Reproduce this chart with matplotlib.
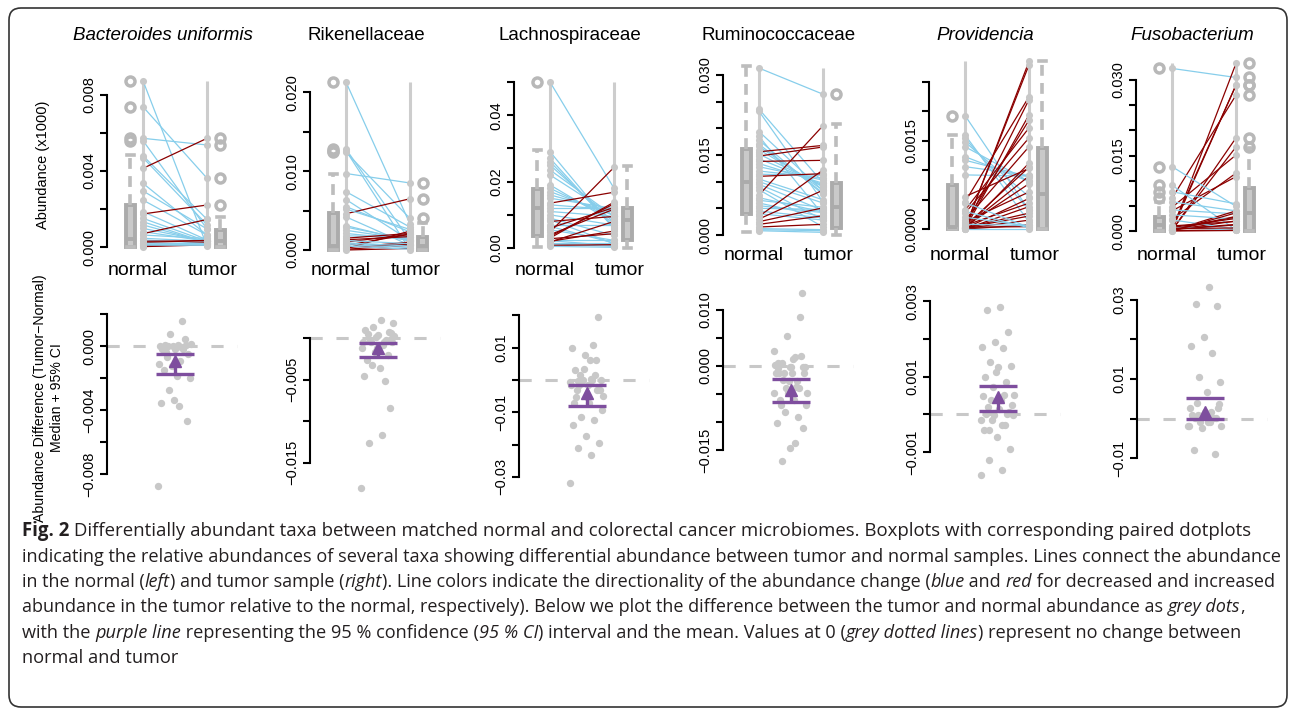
import matplotlib
matplotlib.use("Agg")
import matplotlib.pyplot as plt
from matplotlib.patches import FancyBboxPatch
from matplotlib.transforms import IdentityTransform
import numpy as np

W, H, DPI = 1295, 710, 100
plt.rcParams['font.family'] = ['Liberation Sans', 'DejaVu Sans']

# ---------------- data ----------------
taxa = ["Bacteroides uniformis", "Rikenellaceae", "Lachnospiraceae",
        "Ruminococcaceae", "Providencia", "Fusobacterium"]
taxa_italic = [True, False, False, False, True, True]
group_labels = ["normal", "tumor"]

bu_normal = [0.00875, 0.00738, 0.00572, 0.00560, 0.00480, 0.00470, 0.00414, 0.00335, 0.00295, 0.00247,
             0.00186, 0.00174, 0.00151, 0.00133, 0.00116, 0.00098, 0.00081, 0.00063, 0.00046, 0.00037,
             0.00070, 0.00023, 0.00011, 0.00002, 0.00005, 0.00015, 0.00010, 0.00020, 0.00030]
bu_tumor = [0.00005, 0.00362, 0.00537, 0.00095, 0.00146, 0.00117, 0.00572, 0.00063, 0.00095, 0.00063,
            0.00037, 0.00221, 0.00030, 0.00023, 0.00025, 0.00030, 0.00030, 0.00045, 0.00030, 0.00020,
            0.00145, 0.00035, 0.00022, 0.00011, 0.00015, 0.00015, 0.00009, 0.00018, 0.00033]

rik_normal = [0.0213, 0.0128, 0.0126, 0.0124, 0.0097, 0.0074, 0.0064, 0.0055, 0.0046, 0.0042,
              0.0052, 0.0031, 0.0029, 0.0025, 0.0021, 0.0018, 0.0015, 0.0013, 0.0010, 0.0008,
              0.0006, 0.0004, 0.0002, 0.0001, 0.0003, 0.0000, 0.0009, 0.0012, 0.0005, 0.0007]
rik_tumor = [0.0033, 0.0012, 0.0000, 0.0040, 0.0085, 0.0029, 0.0012, 0.0023, 0.0065, 0.0006,
             0.0026, 0.0011, 0.0013, 0.0013, 0.0013, 0.0016, 0.0021, 0.0017, 0.0020, 0.0006,
             0.0020, 0.0007, 0.0024, 0.0006, 0.0010, 0.0002, 0.0005, 0.0008, 0.0001, 0.0003]

lach_normal = [0.050, 0.029, 0.027, 0.026, 0.025, 0.0235, 0.022, 0.019, 0.018, 0.017,
               0.016, 0.015, 0.0135, 0.013, 0.012, 0.011, 0.010, 0.009, 0.0085, 0.008,
               0.007, 0.0065, 0.006, 0.0055, 0.0048, 0.0040, 0.0035, 0.0030, 0.0028, 0.0025,
               0.0022, 0.0020, 0.0018, 0.0015, 0.0012, 0.0008, 0.0005]
lach_tumor = [0.018, 0.0058, 0.0059, 0.0064, 0.0077, 0.0096, 0.0096, 0.0076, 0.0087, 0.0098,
              0.0108, 0.0119, 0.0168, 0.0115, 0.0120, 0.0095, 0.0069, 0.0038, 0.0013, 0.0095,
              0.0070, 0.0015, 0.0122, 0.0023, 0.0243, 0.0117, 0.0133, 0.0138, 0.0043, 0.0025,
              0.0007, 0.0051, 0.0080, 0.0015, 0.0005, 0.0010, 0.0002]

rum_normal = [0.0313, 0.0236, 0.0232, 0.0194, 0.0185, 0.0178, 0.0170, 0.0166, 0.0160, 0.0156,
              0.0152, 0.0148, 0.0143, 0.0138, 0.0134, 0.0128, 0.0120, 0.0114, 0.0110, 0.0105,
              0.0100, 0.0095, 0.0090, 0.0085, 0.0075, 0.0070, 0.0065, 0.0060, 0.0055, 0.0050,
              0.0045, 0.0040, 0.0035, 0.0030, 0.0025, 0.0020, 0.0015, 0.0012, 0.0010, 0.0008]
rum_tumor = [0.0264, 0.0098, 0.0062, 0.0083, 0.0038, 0.0076, 0.0079, 0.0084, 0.0090, 0.0168,
             0.0091, 0.0165, 0.0094, 0.0140, 0.0097, 0.0103, 0.0107, 0.0112, 0.0115, 0.0066,
             0.0060, 0.0046, 0.0029, 0.0015, 0.0205, 0.0043, 0.0052, 0.0034, 0.0042, 0.0048,
             0.0032, 0.0028, 0.0122, 0.0084, 0.0051, 0.0036, 0.0020, 0.0010, 0.0008, 0.0005]

prov_normal = [0.00193, 0.00160, 0.00154, 0.00148, 0.00140, 0.00123, 0.00117, 0.00106, 0.00092, 0.00001,
               0.00002, 0.00003, 0.00001, 0.00046, 0.00010, 0.00032, 0.00027, 0.00015, 0.00005, 0.00003,
               0.00004, 0.00001, 0.00000, 0.00002, 0.00000, 0.00000, 0.00055, 0.00012, 0.00006, 0.00002,
               0.00001, 0.00003, 0.00000, 0.00008, 0.00020, 0.00030, 0.00045]
prov_tumor = [0.00032, 0.00012, 0.00033, 0.00055, 0.00081, 0.00081, 0.00089, 0.00091, 0.00090, 0.00285,
              0.00279, 0.00220, 0.00194, 0.00225, 0.00185, 0.00172, 0.00155, 0.00140, 0.00105, 0.00090,
              0.00077, 0.00052, 0.00038, 0.00022, 0.00007, 0.00112, 0.00103, 0.00063, 0.00044, 0.00027,
              0.00015, 0.00004, 0.00000, 0.00006, 0.00005, 0.00002, 0.00003]

fuso_normal = [0.0323, 0.0001, 0.0002, 0.0006, 0.0065, 0.0001, 0.0002, 0.0047, 0.0023, 0.0040,
               0.0128, 0.0091, 0.0078, 0.0058, 0.0042, 0.0001, 0.0003, 0.0002, 0.0004, 0.0001,
               0.0032, 0.0022, 0.0009, 0.0000, 0.0005, 0.0003, 0.0002, 0.0007, 0.0010, 0.0000]
fuso_tumor = [0.0305, 0.0333, 0.0290, 0.0290, 0.0270, 0.0185, 0.0167, 0.0151, 0.0115, 0.0108,
              0.0049, 0.0002, 0.0054, 0.0040, 0.0034, 0.0040, 0.0029, 0.0020, 0.0013, 0.0002,
              0.0024, 0.0004, 0.0001, 0.0001, 0.0006, 0.0012, 0.0028, 0.0025, 0.0019, 0.0036]

normals = [bu_normal, rik_normal, lach_normal, rum_normal, prov_normal, fuso_normal]
tumors = [bu_tumor, rik_tumor, lach_tumor, rum_tumor, prov_tumor, fuso_tumor]

# boxplot statistics (per taxon)
normal_q1 = [0.0000, 0.0000, 0.0036, 0.0039, 0.0000, 0.0000]
normal_med = [0.0004, 0.0005, 0.0120, 0.0100, 0.00003, 0.0012]
normal_q3 = [0.0022, 0.0047, 0.0177, 0.0161, 0.00075, 0.0027]
normal_whislo = [0.0000, 0.0000, 0.0002, 0.0006, 0.0000, 0.0000]
normal_whishi = [0.00484, 0.0097, 0.0295, 0.0316, 0.0016, 0.0058]
tumor_q1 = [0.0000, 0.0000, 0.0024, 0.0014, 0.0000, 0.0000]
tumor_med = [0.0003, 0.0005, 0.0084, 0.0053, 0.0006, 0.0035]
tumor_q3 = [0.0009, 0.0017, 0.0120, 0.0098, 0.00137, 0.0085]
tumor_whislo = [0.0000, 0.0000, 0.0000, 0.0000, 0.0000, 0.0000]
tumor_whishi = [0.0016, 0.0034, 0.0247, 0.0208, 0.00285, 0.0164]

# 95% CI and centre of the tumor-normal difference
ci_low = [-0.00173, -0.00225, -0.0080, -0.0064, 0.00009, -0.0001]
ci_high = [-0.00048, -0.0006, -0.00155, -0.0023, 0.00075, 0.0052]
ci_mid = [-0.0009, -0.0012, -0.0040, -0.0043, 0.00047, 0.0018]

M = "\u2212"
top_ticks = [[0, 0.002, 0.004, 0.006, 0.008],
             [0, 0.005, 0.010, 0.015, 0.020],
             [0, 0.01, 0.02, 0.03, 0.04, 0.05],
             [0, 0.005, 0.010, 0.015, 0.020, 0.025, 0.030],
             [0, 0.0005, 0.0010, 0.0015, 0.0020, 0.0025],
             [0, 0.005, 0.010, 0.015, 0.020, 0.025, 0.030]]
top_ticklabels = [["0.000", "", "0.004", "", "0.008"],
                  ["0.000", "", "0.010", "", "0.020"],
                  ["0.00", "", "0.02", "", "0.04", ""],
                  ["0.000", "", "", "0.015", "", "", "0.030"],
                  ["0.0000", "", "", "0.0015", "", ""],
                  ["0.000", "", "", "0.015", "", "", "0.030"]]
bot_ticks = [[0.002, 0, -0.002, -0.004, -0.006, -0.008],
             [0, -0.005, -0.010, -0.015],
             [0.02, 0.01, 0, -0.01, -0.02, -0.03],
             [0.010, 0.005, 0, -0.005, -0.010, -0.015],
             [0.003, 0.002, 0.001, 0, -0.001],
             [0.03, 0.02, 0.01, 0, -0.01]]
bot_ticklabels = [["", "0.000", "", M + "0.004", "", M + "0.008"],
                  ["", M + "0.005", "", M + "0.015"],
                  ["", "0.01", "", M + "0.01", "", M + "0.03"],
                  ["0.010", "", "0.000", "", "", M + "0.015"],
                  ["0.003", "", "0.001", "", M + "0.001"],
                  ["0.03", "", "0.01", "", M + "0.01"]]

# ---------------- layout (pixels) ----------------
top_axis_x = [107, 310, 514, 723, 929, 1136]
top_zero_px = [247, 250, 248, 235, 229, 231]
top_scale = [19000, 7885, 3320, 5333, 58800, 5033]
bot_axis_x = [107, 310, 519, 723, 930, 1137]
bot_zero_px = [346.3, 338.3, 380, 366, 414.3, 418.7]
bot_scale = [16000, 8300, 3230, 5600, 37700, 3970]
label_base_px = [275, 275, 275, 260, 260, 260]

BOX_N, PTS_N, PTS_T, BOX_T = 23, 36, 100, 113
GREY_PT = '#C8C8C8'
VLINE = '#CDCDCD'
BOX_EDGE = '#ABABAB'
BOX_FILL = '#C9C9C9'
WHISK = '#BDBDBD'
BLUE = '#87CEEB'
RED = '#8B0000'
PURPLE = '#7E4E9E'
DASH = '#C8C8C8'

fig = plt.figure(figsize=(W / DPI, H / DPI), dpi=DPI)
fig.patch.set_facecolor('white')
ID = IdentityTransform()


def make_axes(axis_x, zero_px, scale, top_px, bot_px, width_px=145):
    ax = fig.add_axes([axis_x / W, 1 - bot_px / H, width_px / W, (bot_px - top_px) / H])
    ax.set_xlim(0, width_px)
    ax.set_ylim((zero_px - bot_px) / scale, (zero_px - top_px) / scale)
    ax.patch.set_visible(False)
    for s in ['top', 'right', 'bottom']:
        ax.spines[s].set_visible(False)
    ax.spines['left'].set_linewidth(1.5)
    ax.set_xticks([])
    return ax


def set_yaxis(ax, ticks, labels):
    ax.set_yticks(ticks)
    ax.set_yticklabels(labels, rotation=90, va='center', fontsize=10.5)
    ax.tick_params(axis='y', length=5, width=1.5, pad=3)
    ax.spines['left'].set_bounds(min(ticks), max(ticks))


def box_stats(vals, q1, med, q3, lo, hi):
    fl = [v for v in vals if v > hi or v < lo]
    return dict(q1=q1, med=med, q3=q3, whislo=lo, whishi=hi, fliers=fl)


for i in range(6):
    n = np.array(normals[i])
    t = np.array(tumors[i])
    # ---- top: boxplots + paired lines ----
    ax = make_axes(top_axis_x[i], top_zero_px[i], top_scale[i], 50, 258)
    set_yaxis(ax, top_ticks[i], top_ticklabels[i])
    allv = np.concatenate([n, t])
    ax.vlines([PTS_N, PTS_T], allv.min(), allv.max(), colors=VLINE, lw=2.2, zorder=1)
    stats = [box_stats(n, normal_q1[i], normal_med[i], normal_q3[i], normal_whislo[i], normal_whishi[i]),
             box_stats(t, tumor_q1[i], tumor_med[i], tumor_q3[i], tumor_whislo[i], tumor_whishi[i])]
    ax.bxp(stats, positions=[BOX_N, BOX_T], widths=9, patch_artist=True, manage_ticks=False,
           boxprops=dict(facecolor=BOX_FILL, edgecolor=BOX_EDGE, linewidth=2.8),
           medianprops=dict(color=BOX_EDGE, linewidth=2.8),
           whiskerprops=dict(color=WHISK, linewidth=2.6, linestyle=(0, (3, 2))),
           capprops=dict(color=WHISK, linewidth=2.6), capwidths=7,
           flierprops=dict(marker='o', markerfacecolor='none', markeredgecolor='#B8B8B8',
                           markersize=6.5, markeredgewidth=2.5),
           zorder=2)
    for a, b in zip(n, t):
        ax.plot([PTS_N, PTS_T], [a, b], color=RED if b > a else BLUE, lw=0.9, zorder=3)
    ax.scatter(np.full(len(n), PTS_N), n, s=26, color=GREY_PT, linewidths=0, zorder=4, clip_on=False)
    ax.scatter(np.full(len(t), PTS_T), t, s=26, color=GREY_PT, linewidths=0, zorder=4, clip_on=False)

    fig.text(top_axis_x[i] + 56, H - 40, taxa[i], transform=ID, ha='center', va='baseline',
             fontsize=13.5, style='italic' if taxa_italic[i] else 'normal')
    fig.text(top_axis_x[i] + 31, H - label_base_px[i], group_labels[0], transform=ID,
             ha='center', va='baseline', fontsize=14)
    fig.text(top_axis_x[i] + 106, H - label_base_px[i], group_labels[1], transform=ID,
             ha='center', va='baseline', fontsize=14)

    # ---- bottom: differences + CI ----
    d = t - n
    bx = make_axes(bot_axis_x[i], bot_zero_px[i], bot_scale[i], 282, 500)
    set_yaxis(bx, bot_ticks[i], bot_ticklabels[i])
    bx.hlines(0, 0, 130, colors=DASH, lw=2.2, linestyles=[(0, (4, 4.5))], zorder=1)
    jit = ((np.arange(len(d)) * 0.618034) % 1.0 - 0.5) * 34
    bx.scatter(68 + jit, d, s=28, color=GREY_PT, linewidths=0, zorder=3, clip_on=False)
    bx.hlines([ci_low[i], ci_high[i]], 49, 87, colors=PURPLE, lw=2.4, zorder=5)
    bx.vlines(68, ci_low[i], ci_mid[i], colors=PURPLE, lw=2.4, zorder=5)
    bx.plot([68], [ci_mid[i]], marker='^', ms=9, color=PURPLE, zorder=6, clip_on=False)

# y labels
fig.text(43, H - 165, "Abundance (x1000)", transform=ID, rotation=90, ha='center', va='center',
         fontsize=10.5)
fig.text(40, H - 398, "Abundance Difference (Tumor" + M + "Normal)", transform=ID, rotation=90,
         ha='center', va='center', fontsize=10.2)
fig.text(57, H - 398, "Median + 95% CI", transform=ID, rotation=90, ha='center', va='center',
         fontsize=10.2)

# border
fig.add_artist(FancyBboxPatch((9, H - 707), 1278, 699, boxstyle='round,pad=0,rounding_size=12',
                              transform=ID, fill=False, lw=1.2, ec='#333333'))

# caption
caption = [
    [("Fig. 2", "b"), (" Differentially abundant taxa between matched normal and colorectal cancer microbiomes. Boxplots with corresponding paired dotplots", "n")],
    [("indicating the relative abundances of several taxa showing differential abundance between tumor and normal samples. Lines connect the abundance", "n")],
    [("in the normal (", "n"), ("left", "i"), (") and tumor sample (", "n"), ("right", "i"),
     ("). Line colors indicate the directionality of the abundance change (", "n"), ("blue", "i"),
     (" and ", "n"), ("red", "i"), (" for decreased and increased", "n")],
    [("abundance in the tumor relative to the normal, respectively). Below we plot the difference between the tumor and normal abundance as ", "n"),
     ("grey dots", "i"), (",", "n")],
    [("with the ", "n"), ("purple line", "i"), (" representing the 95 % confidence (", "n"), ("95 % CI", "i"),
     (") interval and the mean. Values at 0 (", "n"), ("grey dotted lines", "i"), (") represent no change between", "n")],
    [("normal and tumor", "n")],
]
cap_base_px = [536, 562, 587, 612, 638, 663]
cap_right_px = [1249, 1276, 1274, 1243, 1240, None]
CAP_X0 = 22
renderer = fig.canvas.get_renderer()


def style_kw(s):
    return dict(family=['Open Sans', 'DejaVu Sans'],
                style='italic' if s == 'i' else 'normal',
                weight='bold' if s == 'b' else 'normal')


def seg_width(text, s, size):
    t1 = fig.text(0, 0, "|" + text + "|", transform=ID, fontsize=size, **style_kw(s))
    t2 = fig.text(0, 0, "||", transform=ID, fontsize=size, **style_kw(s))
    w = t1.get_window_extent(renderer).width - t2.get_window_extent(renderer).width
    t1.remove()
    t2.remove()
    return w


base = 12.0
sizes = []
for line, right in zip(caption, cap_right_px):
    if right is None:
        sizes.append(float(np.mean(sizes)))
    else:
        w = sum(seg_width(tx, s, base) for tx, s in line)
        sizes.append(base * (right - CAP_X0) / w)

for line, yb, size in zip(caption, cap_base_px, sizes):
    x = CAP_X0
    for tx, s in line:
        fig.text(x, H - yb, tx, transform=ID, fontsize=size, ha='left', va='baseline',
                 color='#231F20', **style_kw(s))
        x += seg_width(tx, s, size)

fig.savefig("out.png", dpi=DPI)
